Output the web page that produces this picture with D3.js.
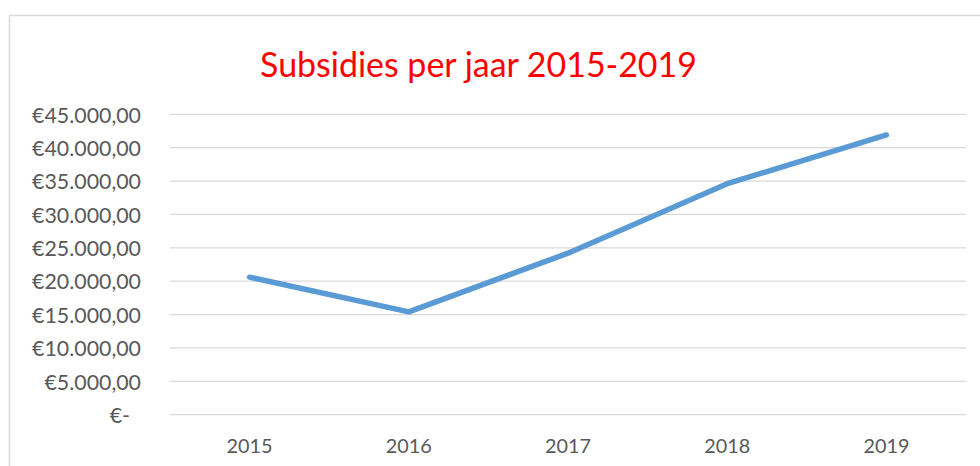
<!DOCTYPE html>
<html><head><meta charset="utf-8">
<script src="https://cdn.jsdelivr.net/npm/d3@7"></script>
<style>body{margin:0;background:#fff}svg{display:block}</style>
</head><body>
<svg id="c" width="980" height="466"></svg>
<script>
const years = ["2015","2016","2017","2018","2019"];
const subsidies = [20600, 15400, 24200, 34600, 41900];
const yTicks = [0,5000,10000,15000,20000,25000,30000,35000,40000,45000];
const title = "Subsidies per jaar 2015-2019";

const svg = d3.select("#c");
const font = "Lato, 'Open Sans', sans-serif";
// chart border
svg.append("rect").attr("x",9.5).attr("y",15.5).attr("width",1000).attr("height",500)
  .attr("fill","none").attr("stroke","#d9d9d9").attr("stroke-width",1.5);

const x = d3.scaleBand().domain(years).range([170,966]);
const y = d3.scaleLinear().domain([0,45000]).range([414.7,114.3]);

const fmt = v => v===0 ? "€-" : "€" + d3.format(",.2f")(v).replace(/,/g,"#").replace(/\./g,",").replace(/#/g,".");

// measure font size to match label widths
const probe = svg.append("text").style("font-family",font).style("font-size","20px").text("€45.000,00");
const yfs = 20*109/probe.node().getComputedTextLength();
probe.text("2015");
const xfs = 20*46/probe.node().getComputedTextLength();
probe.remove();

// gridlines
svg.append("g").selectAll("line").data(yTicks).join("line")
  .attr("x1",170).attr("x2",966).attr("y1",d=>y(d)).attr("y2",d=>y(d))
  .attr("stroke","#d9d9d9").attr("stroke-width",1.3);

// y axis
const ya = svg.append("g").attr("transform","translate(141,0)")
  .call(d3.axisLeft(y).tickValues(yTicks).tickFormat(fmt).tickSize(0).tickPadding(0));
ya.select(".domain").remove();
ya.selectAll("text").attr("fill","#595959").style("font-family",font).style("font-size",yfs+"px")
  .attr("dy","0.36em").attr("text-anchor","end");
ya.selectAll("text").filter(d=>d===0).attr("dx",-11);

// x axis
const xa = svg.append("g").attr("transform","translate(0,414.7)")
  .call(d3.axisBottom(x).tickSize(0).tickPadding(0));
xa.select(".domain").remove();
xa.selectAll("text").attr("fill","#595959").style("font-family",font).style("font-size",xfs+"px")
  .attr("dy","0").attr("y",38.5);

// line
const line = d3.line().x((d,i)=>x(years[i])+x.bandwidth()/2).y(d=>y(d));
svg.append("path").datum(subsidies).attr("d",line).attr("fill","none")
  .attr("stroke","#5b9bd5").attr("stroke-width",5.5).attr("stroke-linecap","round").attr("stroke-linejoin","round");

// title
const t = svg.append("text").attr("x",478.5).attr("y",76.7).attr("text-anchor","middle")
  .attr("fill","#ff0000").style("font-family",font).style("font-size","32px").text(title);
const w = t.node().getComputedTextLength();
t.style("font-size",(32*437/w)+"px");
</script>
</body></html>
